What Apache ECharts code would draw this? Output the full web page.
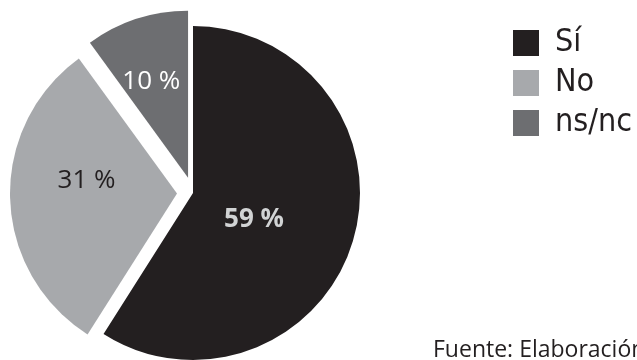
<!DOCTYPE html>
<html>
<head>
<meta charset="utf-8">
<script src="https://cdn.jsdelivr.net/npm/echarts@6/dist/echarts.min.js"></script>
<style>
html,body{margin:0;padding:0;background:#fff;}
#chart{width:637px;height:360px;}
</style>
</head>
<body>
<div id="chart"></div>
<script>
const categories = ['Sí', 'No', 'ns/nc'];
const values = [59, 31, 10];
const exploded = [false, true, true];
const sourceText = 'Fuente: Elaboración propia.';

const sliceColors = ['#231f20', '#a7a9ac', '#6d6e71'];
const labelColors = ['#d1d3d4', '#231f20', '#ffffff'];
const labelWeights = ['bold', 'normal', 'normal'];
const labelShift = [{dx: -22, dy: 2}, {dx: -4, dy: -16}, {dx: -10, dy: -14}];

const chart = echarts.init(document.getElementById('chart'), null, {renderer: 'canvas'});
chart.setOption({
  animation: false,
  backgroundColor: '#ffffff',
  legend: {
    orient: 'vertical',
    left: 508,
    top: 22,
    icon: 'rect',
    itemWidth: 26,
    itemHeight: 26,
    itemGap: 8,
    selectedMode: false,
    data: categories,
    textStyle: {
      fontFamily: '"Liberation Sans Narrow", "DejaVu Sans Condensed", Roboto, sans-serif',
      fontSize: 32,
      lineHeight: 26,
      color: '#231f20',
      padding: [0, 0, 0, 11]
    }
  },
  graphic: [{
    type: 'text',
    left: 433,
    top: 339,
    style: {
      text: sourceText,
      fontFamily: '"Open Sans", sans-serif',
      fontSize: 23,
      fill: '#231f20'
    }
  }],
  series: [{
    type: 'pie',
    center: [193, 193],
    radius: 167,
    startAngle: 90,
    clockwise: true,
    selectedMode: 'multiple',
    selectedOffset: 16,
    emphasis: {disabled: true},
    label: {
      show: true,
      position: 'inside',
      fontFamily: '"Open Sans", sans-serif',
      fontSize: 26,
      formatter: p => p.value + ' %'
    },
    labelLine: {show: false},
    labelLayout: p => labelShift[p.dataIndex],
    data: categories.map((c, i) => ({
      name: c,
      value: values[i],
      selected: exploded[i],
      itemStyle: {color: sliceColors[i], borderWidth: 0},
      label: {color: labelColors[i], fontWeight: labelWeights[i]},
      select: {itemStyle: {color: sliceColors[i]}, label: {color: labelColors[i], fontWeight: labelWeights[i]}}
    }))
  }]
});
</script>
</body>
</html>
